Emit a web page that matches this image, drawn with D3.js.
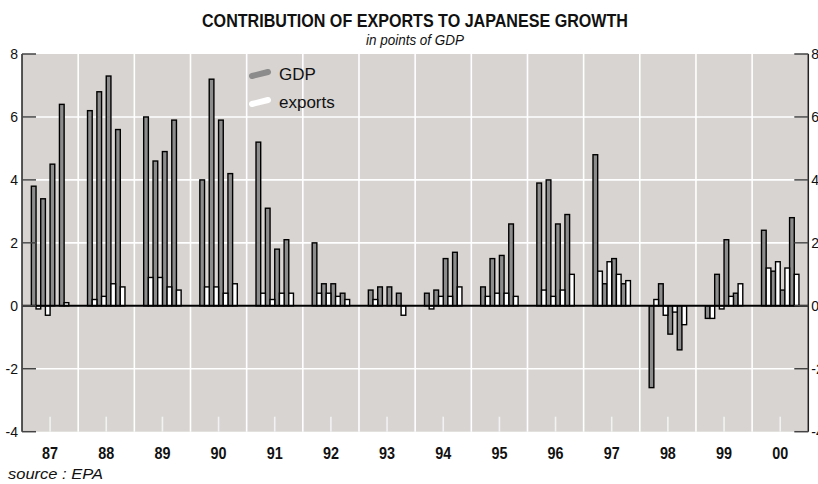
<!DOCTYPE html>
<html>
<head>
<meta charset="utf-8">
<script src="https://cdn.jsdelivr.net/npm/d3@7"></script>
<style>
  html, body { margin: 0; padding: 0; background: #ffffff; }
  svg { display: block; }
  text { font-family: "Liberation Sans Narrow", "Arial Narrow", "Liberation Sans", Arial, sans-serif; fill: #111; }
</style>
</head>
<body>
<svg id="chart" width="818" height="484"></svg>
<script>
const title = "CONTRIBUTION OF EXPORTS TO JAPANESE GROWTH";
const subtitle = "in points of GDP";
const source = "source : EPA";
const years = ["87","88","89","90","91","92","93","94","95","96","97","98","99","00"];
const yTicks = [-4, -2, 0, 2, 4, 6, 8];
const seriesNames = ["GDP", "exports"];
// quarterly values, Q1..Q4 for each year
const gdp = [
  3.8, 3.4, 4.5, 6.4,
  6.2, 6.8, 7.3, 5.6,
  6.0, 4.6, 4.9, 5.9,
  4.0, 7.2, 5.9, 4.2,
  5.2, 3.1, 1.8, 2.1,
  2.0, 0.7, 0.7, 0.4,
  0.5, 0.6, 0.6, 0.4,
  0.4, 0.5, 1.5, 1.7,
  0.6, 1.5, 1.6, 2.6,
  3.9, 4.0, 2.6, 2.9,
  4.8, 0.7, 1.5, 0.7,
  -2.6, 0.7, -0.9, -1.4,
  -0.4, 1.0, 2.1, 0.4,
  2.4, 1.1, 0.5, 2.8
];
const exportsContrib = [
  -0.1, -0.3, 0.0, 0.1,
  0.2, 0.3, 0.7, 0.6,
  0.9, 0.9, 0.6, 0.5,
  0.6, 0.6, 0.4, 0.7,
  0.4, 0.2, 0.4, 0.4,
  0.4, 0.4, 0.3, 0.2,
  0.2, 0.0, 0.0, -0.3,
  -0.1, 0.3, 0.3, 0.6,
  0.3, 0.4, 0.4, 0.3,
  0.5, 0.3, 0.5, 1.0,
  1.1, 1.4, 1.0, 0.8,
  0.2, -0.3, -0.2, -0.6,
  -0.4, -0.1, 0.3, 0.7,
  1.2, 1.4, 1.2, 1.0
];

const svg = d3.select("#chart");
const L = 22, R = 808.3, T = 54, B = 431.7;
// x in months from Jan 1987
const x = d3.scaleLinear().domain([0, years.length * 12]).range([L, R]);
const y = d3.scaleLinear().domain([-4, 8]).range([B, T]);

const colBg = "#d8d4d1", colGdp = "#8c8c8c";

// plot background
svg.append("rect").attr("x", L).attr("y", T).attr("width", R - L).attr("height", B - T).attr("fill", colBg);

// grid
const grid = svg.append("g").attr("stroke", "#ffffff").attr("stroke-width", 1.6);
grid.selectAll("line.h").data(yTicks.filter(v => v !== 0 && v !== 8 && v !== -4)).join("line")
  .attr("x1", L).attr("x2", R).attr("y1", d => y(d)).attr("y2", d => y(d));
grid.selectAll("line.v").data(d3.range(1, years.length)).join("line")
  .attr("x1", d => x(d * 12)).attr("x2", d => x(d * 12)).attr("y1", T).attr("y2", B);
// short marks at mid-year on bottom
grid.selectAll("line.m").data(d3.range(years.length)).join("line")
  .attr("stroke", "#f2f2f2")
  .attr("x1", d => x(d * 12 + 6)).attr("x2", d => x(d * 12 + 6)).attr("y1", B - 15).attr("y2", B);

// bars
function barData(vals, off) {
  return vals.map((v, i) => {
    const m = Math.floor(i / 4) * 12 + 2 + 2 * (i % 4) + off;
    return { v, m };
  });
}
const bars = svg.append("g").attr("stroke", "#000").attr("stroke-width", 1.4);
bars.selectAll("rect.gdp").data(barData(gdp, 0)).join("rect")
  .attr("x", d => x(d.m)).attr("width", d => x(d.m + 1) - x(d.m))
  .attr("y", d => y(Math.max(0, d.v))).attr("height", d => Math.abs(y(d.v) - y(0)))
  .attr("fill", colGdp);
bars.selectAll("rect.exp").data(barData(exportsContrib, 1).filter(d => d.v !== 0)).join("rect")
  .attr("x", d => x(d.m)).attr("width", d => x(d.m + 1) - x(d.m))
  .attr("y", d => y(Math.max(0, d.v))).attr("height", d => Math.abs(y(d.v) - y(0)))
  .attr("fill", "#ffffff");

// zero line
svg.append("line").attr("x1", L).attr("x2", R).attr("y1", y(0)).attr("y2", y(0))
  .attr("stroke", "#000").attr("stroke-width", 2);

// axes
const axisG = svg.append("g").attr("stroke", "#222").attr("stroke-width", 1.5);
axisG.append("line").attr("x1", L).attr("x2", L).attr("y1", T).attr("y2", B);
axisG.append("line").attr("x1", R).attr("x2", R).attr("y1", T).attr("y2", B);
axisG.selectAll("line.tl").data(yTicks).join("line")
  .attr("stroke", "#444")
  .attr("x1", L).attr("x2", L + 14).attr("y1", d => y(d)).attr("y2", d => y(d));
axisG.selectAll("line.tr").data(yTicks).join("line")
  .attr("stroke", "#444")
  .attr("x1", R - 14).attr("x2", R).attr("y1", d => y(d)).attr("y2", d => y(d));

svg.append("g").selectAll("text").data(yTicks).join("text")
  .attr("x", L - 4).attr("y", d => y(d) + 5).attr("text-anchor", "end")
  .attr("font-size", 14).text(d => d);
svg.append("g").selectAll("text").data(yTicks).join("text")
  .attr("x", R + 3).attr("y", d => y(d) + 5).attr("text-anchor", "start")
  .attr("font-size", 14).text(d => d);

// year labels
svg.append("g").selectAll("text").data(years).join("text")
  .attr("x", (d, i) => x(i * 12 + 6)).attr("y", 459).attr("text-anchor", "middle")
  .attr("font-size", 17).attr("font-weight", "bold")
  .attr("textLength", 16).attr("lengthAdjust", "spacingAndGlyphs").text(d => d);

// titles
svg.append("text").attr("x", 415).attr("y", 27).attr("text-anchor", "middle")
  .attr("font-size", 18).attr("font-weight", "bold")
  .attr("textLength", 426).attr("lengthAdjust", "spacingAndGlyphs").text(title);
svg.append("text").attr("x", 415).attr("y", 45).attr("text-anchor", "middle")
  .attr("font-size", 14).attr("font-style", "italic")
  .attr("textLength", 98).attr("lengthAdjust", "spacingAndGlyphs").text(subtitle);
svg.append("text").attr("x", 8).attr("y", 479)
  .attr("font-size", 14).attr("font-style", "italic")
  .attr("textLength", 95).attr("lengthAdjust", "spacingAndGlyphs").text(source);

// legend
const lg = svg.append("g");
const swCols = [colGdp, "#ffffff"];
seriesNames.forEach((name, i) => {
  const yy = 73 + i * 28;
  lg.append("path").attr("d", `M${252},${yy + 3} L${268},${yy - 1}`)
    .attr("stroke", swCols[i]).attr("stroke-width", 6).attr("stroke-linecap", "round").attr("fill", "none");
  lg.append("text").attr("x", 279).attr("y", yy + 7).attr("font-size", 17).text(name);
});
</script>
</body>
</html>
